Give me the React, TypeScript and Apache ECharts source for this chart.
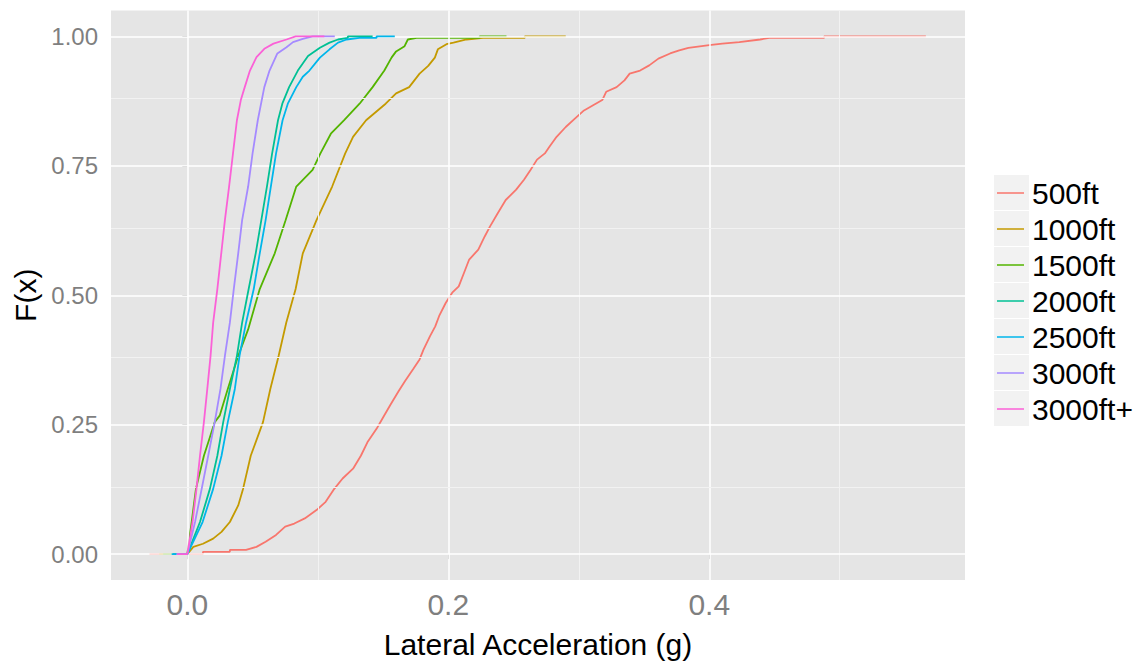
import React, { useEffect, useRef } from "react";
import * as echarts from "echarts";

const FONT = "'Liberation Sans', Arial, Helvetica, sans-serif";

const seriesNames = ["500ft", "1000ft", "1500ft", "2000ft", "2500ft", "3000ft", "3000ft+"];
const seriesColors = ["#F8766D", "#C49A00", "#53B400", "#00C094", "#00B6EB", "#A58AFF", "#FB61D7"];

const xTickValues = [0, 0.2, 0.4];
const yTickValues = [0, 0.25, 0.5, 0.75, 1];
const xMinorGrid = [0.1, 0.3, 0.5];
const yMinorGrid = [0.125, 0.375, 0.625, 0.875];

// ECDF curves: [lateral acceleration (g), F(x)]
const ecdf500ft = [
  [-0.029, 0], [0.012, 0], [0.012, 0.0045], [0.0326, 0.0045], [0.0326, 0.008], [0.045, 0.008],
  [0.053, 0.014], [0.06, 0.024], [0.068, 0.037], [0.075, 0.053], [0.082, 0.059], [0.09, 0.069],
  [0.099, 0.085], [0.106, 0.101], [0.112, 0.124], [0.119, 0.146], [0.127, 0.165], [0.133, 0.19],
  [0.138, 0.216], [0.145, 0.242], [0.15, 0.264], [0.156, 0.29], [0.162, 0.315], [0.167, 0.335],
  [0.173, 0.357], [0.178, 0.376], [0.181, 0.395], [0.186, 0.421], [0.19, 0.44], [0.193, 0.46],
  [0.198, 0.485], [0.203, 0.505], [0.208, 0.517], [0.212, 0.543], [0.216, 0.569], [0.223, 0.588],
  [0.228, 0.614], [0.232, 0.633], [0.238, 0.659], [0.244, 0.684], [0.252, 0.704], [0.258, 0.723],
  [0.263, 0.742], [0.268, 0.762], [0.274, 0.774], [0.2775, 0.787], [0.283, 0.806], [0.29, 0.825],
  [0.297, 0.841], [0.304, 0.857], [0.311, 0.867], [0.318, 0.877], [0.321, 0.893], [0.329, 0.902],
  [0.335, 0.915], [0.339, 0.928], [0.347, 0.934], [0.354, 0.944], [0.361, 0.957], [0.37, 0.967],
  [0.377, 0.973], [0.384, 0.978], [0.4, 0.983], [0.41, 0.986], [0.423, 0.989], [0.439, 0.994],
  [0.446, 0.997], [0.488, 0.997], [0.488, 1], [0.566, 1],
];
const ecdf1000ft = [
  [-0.0215, 0], [0, 0], [0.0046, 0.014], [0.012, 0.02], [0.0198, 0.03], [0.0262, 0.043],
  [0.0326, 0.062], [0.039, 0.094], [0.0427, 0.126], [0.0486, 0.19], [0.058, 0.255], [0.0636, 0.319],
  [0.07, 0.383], [0.0758, 0.447], [0.083, 0.512], [0.0885, 0.581], [0.099, 0.645], [0.111, 0.71],
  [0.121, 0.774], [0.127, 0.806], [0.137, 0.838], [0.152, 0.87], [0.16, 0.89], [0.17, 0.902],
  [0.178, 0.928], [0.1846, 0.943], [0.1897, 0.959], [0.192, 0.975], [0.1986, 0.985], [0.204, 0.988],
  [0.214, 0.994], [0.2267, 0.997], [0.2586, 0.997], [0.2586, 1], [0.29, 1],
];
const ecdf1500ft = [
  [-0.0185, 0], [0, 0], [0.0033, 0.062], [0.0066, 0.126], [0.0127, 0.19], [0.0168, 0.222],
  [0.021, 0.255], [0.0249, 0.268], [0.031, 0.319], [0.039, 0.383], [0.0466, 0.434], [0.0555, 0.512],
  [0.067, 0.581], [0.0753, 0.645], [0.0835, 0.71], [0.096, 0.742], [0.102, 0.774], [0.11, 0.812],
  [0.12, 0.838], [0.132, 0.87], [0.142, 0.902], [0.151, 0.934], [0.1565, 0.959], [0.16, 0.971],
  [0.1665, 0.981], [0.169, 0.994], [0.1757, 0.997], [0.224, 0.997], [0.224, 1], [0.2446, 1],
];
const ecdf2000ft = [
  [-0.011, 0], [0, 0], [0.0097, 0.062], [0.0173, 0.126], [0.023, 0.19], [0.0275, 0.255],
  [0.0326, 0.319], [0.038, 0.383], [0.042, 0.447], [0.047, 0.512], [0.0524, 0.581], [0.0567, 0.645],
  [0.061, 0.71], [0.065, 0.774], [0.0695, 0.838], [0.0728, 0.87], [0.078, 0.902], [0.0847, 0.934],
  [0.0925, 0.962], [0.1016, 0.978], [0.109, 0.988], [0.1155, 0.994], [0.123, 0.997], [0.123, 1],
  [0.142, 1],
];
const ecdf2500ft = [
  [-0.012, 0], [0, 0], [0.0117, 0.062], [0.0198, 0.126], [0.0262, 0.19], [0.031, 0.255],
  [0.0364, 0.319], [0.04, 0.383], [0.045, 0.447], [0.0509, 0.512], [0.0555, 0.581], [0.06, 0.645],
  [0.064, 0.71], [0.068, 0.774], [0.073, 0.838], [0.077, 0.87], [0.0835, 0.902], [0.0885, 0.922],
  [0.0936, 0.934], [0.1016, 0.959], [0.109, 0.975], [0.1155, 0.988], [0.122, 0.994], [0.132, 0.997],
  [0.145, 0.997], [0.145, 1], [0.159, 1],
];
const ecdf3000ft = [
  [-0.0085, 0], [0, 0], [0.0059, 0.062], [0.011, 0.126], [0.016, 0.19], [0.021, 0.255],
  [0.0254, 0.319], [0.0288, 0.383], [0.0326, 0.447], [0.0356, 0.512], [0.039, 0.581], [0.042, 0.645],
  [0.0466, 0.71], [0.05, 0.774], [0.054, 0.838], [0.059, 0.902], [0.063, 0.934], [0.069, 0.967],
  [0.076, 0.979], [0.081, 0.989], [0.0885, 0.995], [0.096, 1], [0.113, 1],
];
const ecdf3000ftPlus = [
  [-0.0078, 0], [0, 0], [0.004, 0.062], [0.007, 0.126], [0.0097, 0.19], [0.0127, 0.255],
  [0.0153, 0.319], [0.0178, 0.383], [0.0198, 0.447], [0.023, 0.512], [0.026, 0.581], [0.0288, 0.645],
  [0.032, 0.71], [0.035, 0.774], [0.038, 0.838], [0.041, 0.877], [0.044, 0.902], [0.048, 0.934],
  [0.053, 0.96], [0.059, 0.976], [0.066, 0.986], [0.076, 0.994], [0.083, 1], [0.105, 1],
];

const seriesData = [ecdf500ft, ecdf1000ft, ecdf1500ft, ecdf2000ft, ecdf2500ft, ecdf3000ft, ecdf3000ftPlus];

export default function App() {
  const ref = useRef<HTMLDivElement>(null);

  useEffect(() => {
    if (!ref.current) return;
    const chart = echarts.init(ref.current, undefined, { renderer: "svg" });

    const gridLines = [
      ...xTickValues.map((v) => ({ xAxis: v, lineStyle: { color: "#FFFFFF", width: 1.5, type: "solid" } })),
      ...xMinorGrid.map((v) => ({ xAxis: v, lineStyle: { color: "#F2F2F2", width: 1, type: "solid" } })),
      ...yTickValues.map((v) => ({ yAxis: v, lineStyle: { color: "#FFFFFF", width: 1.5, type: "solid" } })),
      ...yMinorGrid.map((v) => ({ yAxis: v, lineStyle: { color: "#F2F2F2", width: 1, type: "solid" } })),
    ];

    const option: any = {
      animation: false,
      backgroundColor: "#FFFFFF",
      textStyle: { fontFamily: FONT },
      grid: {
        left: 111,
        right: 178,
        top: 10.5,
        bottom: 82,
        show: true,
        backgroundColor: "#E5E5E5",
        borderWidth: 0,
        containLabel: false,
      },
      xAxis: {
        type: "value",
        min: -0.0585,
        max: 0.596,
        name: "Lateral Acceleration (g)",
        nameLocation: "middle",
        nameGap: 49,
        nameTextStyle: { fontSize: 30, color: "#000000", fontFamily: FONT },
        axisLine: { show: false },
        axisTick: { show: true, length: 5, lineStyle: { color: "#7F7F7F", width: 1 }, customValues: xTickValues },
        axisLabel: {
          show: true,
          fontSize: 30,
          color: "#7F7F7F",
          fontFamily: FONT,
          margin: 9,
          customValues: xTickValues,
          formatter: (v: number) => v.toFixed(1),
        },
        splitLine: { show: false },
      },
      yAxis: {
        type: "value",
        min: -0.05,
        max: 1.05,
        name: "F(x)",
        nameLocation: "middle",
        nameRotate: 90,
        nameGap: 68,
        nameTextStyle: { fontSize: 30, color: "#000000", fontFamily: FONT },
        axisLine: { show: false },
        axisTick: { show: true, length: 5, lineStyle: { color: "#7F7F7F", width: 1 }, customValues: yTickValues },
        axisLabel: {
          show: true,
          fontSize: 24,
          color: "#7F7F7F",
          fontFamily: FONT,
          margin: 13,
          customValues: yTickValues,
          formatter: (v: number) => v.toFixed(2),
        },
        splitLine: { show: false },
      },
      legend: {
        show: true,
        orient: "vertical",
        left: 997,
        top: 175,
        padding: 0,
        itemGap: 0,
        icon: "rect",
        itemWidth: 27,
        itemHeight: 1.5,
        data: seriesNames,
        textStyle: { fontSize: 30, color: "#000000", fontFamily: FONT, lineHeight: 36, padding: [0, 0, 0, 3] },
      },
      graphic: seriesNames.map((_, i) => ({
        type: "rect",
        left: 994,
        top: 175 + 36 * i,
        shape: { width: 35, height: 35 },
        style: { fill: "#F2F2F2" },
        z: -1,
        silent: true,
      })),
      series: [
        {
          name: "grid",
          type: "line",
          data: [],
          z: 1,
          silent: true,
          markLine: {
            silent: true,
            symbol: ["none", "none"],
            label: { show: false },
            animation: false,
            data: gridLines,
          },
        },
        ...seriesNames.map((name, i) => ({
          name,
          type: "line",
          data: seriesData[i],
          showSymbol: false,
          symbol: "none",
          z: 2 + i,
          color: seriesColors[i],
          lineStyle: { color: seriesColors[i], width: 1.8 },
        })),
      ],
    };

    chart.setOption(option);
    return () => chart.dispose();
  }, []);

  return (
    <div
      ref={ref}
      style={{ position: "fixed", left: 0, top: 0, width: 1143, height: 664, background: "#FFFFFF" }}
    />
  );
}
